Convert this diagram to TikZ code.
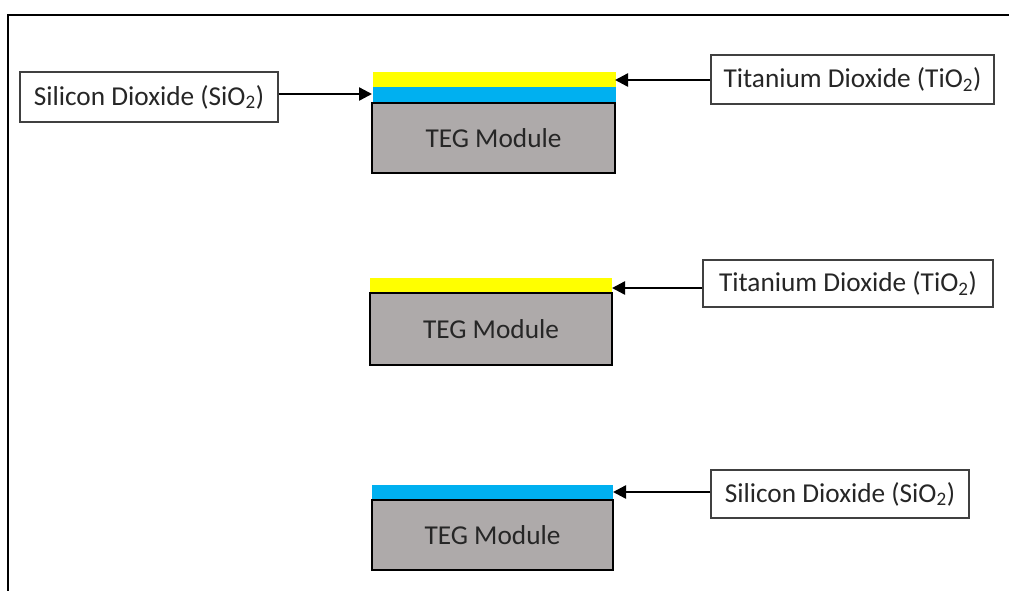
\documentclass[tikz,border=0pt]{standalone}
\usepackage{fontspec}
\setmainfont{Carlito}
\usetikzlibrary{arrows.meta}
\definecolor{tegray}{HTML}{AEAAAA}
\definecolor{tiyellow}{HTML}{FFFF00}
\definecolor{siblue}{HTML}{00B0F0}
\definecolor{txt}{HTML}{262626}
\begin{document}
\begin{tikzpicture}[x=1pt,y=-1pt,
  label box/.style={draw=black!75,line width=1.2pt,fill=white,inner sep=0pt,text=txt,font=\fontsize{27.3}{31}\selectfont},
  module/.style={draw=black,line width=2.2pt,fill=tegray,inner sep=0pt,text=txt,font=\fontsize{27.3}{31}\selectfont},
  layer/.style={inner sep=0pt,draw=none},
  pointer/.style={line width=2.4pt,-{Triangle[length=13pt,width=13pt]}}]
\useasboundingbox (0,0) rectangle (1009,590);
\fill[white] (0,0) rectangle (1009,590);
\draw[line width=2.2pt] (8,591) -- (8,15) -- (1010,15);
% group 1
\node[layer,fill=tiyellow,minimum width=243pt,minimum height=15pt] (y1) at (494,79.5) {};
\node[layer,fill=siblue,minimum width=243pt,minimum height=16pt] (b1) at (494,95) {};
\node[module,minimum width=243pt,minimum height=70pt] (m1) at (493.5,138) {TEG Module};
\node[label box,minimum width=258pt,minimum height=50pt] (l1) at (149,97) {Silicon Dioxide (SiO\textsubscript{2})};
\node[label box,minimum width=283pt,minimum height=49pt] (r1) at (852.5,79.5) {Titanium Dioxide (TiO\textsubscript{2})};
\coordinate (b1w) at (372,94);
\coordinate (y1e) at (615,80);
\draw[pointer] (l1.east |- b1w) -- (b1w);
\draw[pointer] (r1.west |- y1e) -- (y1e);
% group 2
\node[layer,fill=tiyellow,minimum width=242pt,minimum height=15pt] (y2) at (491,285.5) {};
\node[module,minimum width=242pt,minimum height=72pt] (m2) at (491,329) {TEG Module};
\node[label box,minimum width=290pt,minimum height=47pt] (r2) at (848,283.5) {Titanium Dioxide (TiO\textsubscript{2})};
\coordinate (y2e) at (612,288);
\draw[pointer] (r2.west |- y2e) -- (y2e);
% group 3
\node[layer,fill=siblue,minimum width=241pt,minimum height=15pt] (b3) at (492.5,492.5) {};
\node[module,minimum width=241pt,minimum height=70pt] (m3) at (492.5,535) {TEG Module};
\node[label box,minimum width=258pt,minimum height=48pt] (r3) at (840,494) {Silicon Dioxide (SiO\textsubscript{2})};
\coordinate (b3e) at (613,492);
\draw[pointer] (r3.west |- b3e) -- (b3e);
\end{tikzpicture}
\end{document}
